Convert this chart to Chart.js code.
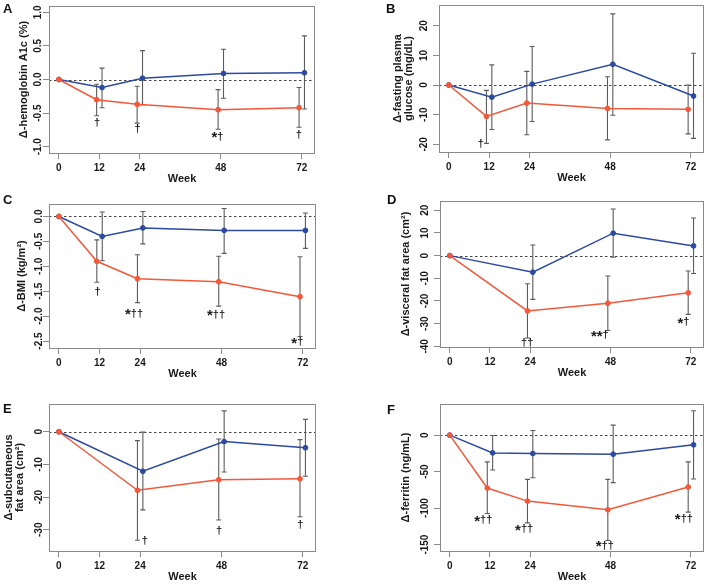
<!DOCTYPE html>
<html lang="en">
<head>
<meta charset="UTF-8">
<title>Change from baseline over 72 weeks</title>
<script src="https://cdn.jsdelivr.net/npm/chart.js"></script>
<style>
  body { margin: 0; background: #fff; font-family: "Liberation Sans", Arial, sans-serif; }
  #page { position: relative; width: 709px; height: 585px; }
  canvas, .tag { position: absolute; }
  .tag { font-size: 13px; font-weight: bold; line-height: 13px; color: #111; }
</style>
</head>
<body>
<div id="page"></div>
<script>
// ---- data ----
const weeks = [0, 12, 24, 48, 72];

// A: hemoglobin A1c (%)
const hba1cRed = [0, -0.30, -0.37, -0.45, -0.42];
const hba1cRedLo = [null, -0.54, -0.65, -0.74, -0.71];
const hba1cRedHi = [null, -0.07, -0.10, -0.15, -0.12];
const hba1cBlue = [0, -0.12, 0.02, 0.09, 0.10];
const hba1cBlueLo = [null, -0.42, -0.38, -0.28, -0.44];
const hba1cBlueHi = [null, 0.17, 0.43, 0.45, 0.65];
const hba1cTicks = [-1, -0.5, 0, 0.5, 1];
const hba1cNotes = [[11.3, -0.65, '†'], [23.3, -0.74, '†'], [47.0, -0.85, '*†'], [71.1, -0.82, '†']];

// B: fasting plasma glucose (mg/dL)
const fpgRed = [0, -10.6, -6.1, -7.9, -8.2];
const fpgRedLo = [null, -19.7, -16.8, -18.5, -16.5];
const fpgRedHi = [null, -1.8, 4.6, 2.8, 0.0];
const fpgBlue = [0, -4.1, 0.3, 7.0, -3.7];
const fpgBlueLo = [null, -15.0, -12.3, -10.2, -18.0];
const fpgBlueHi = [null, 6.8, 13.0, 24.0, 10.7];
const fpgTicks = [-20, -10, 0, 10, 20];
const fpgNotes = [[9.5, -19.9, '†']];

// C: BMI (kg/m2)
const bmiRed = [0, -0.90, -1.25, -1.31, -1.61];
const bmiRedLo = [null, -1.32, -1.73, -1.80, -2.41];
const bmiRedHi = [null, -0.47, -0.77, -0.80, -0.81];
const bmiBlue = [0, -0.40, -0.23, -0.28, -0.28];
const bmiBlueLo = [null, -0.89, -0.55, -0.74, -0.64];
const bmiBlueHi = [null, 0.09, 0.10, 0.16, 0.07];
const bmiTicks = [-2.5, -2, -1.5, -1, -0.5, 0];
const bmiNotes = [[11.4, -1.52, '†'], [22.2, -1.95, '*††'], [46.4, -1.97, '*††'], [70.4, -2.52, '*†']];

// D: visceral fat area (cm2), no week-12 measurement
const vfaRed = [0, null, -24.4, -21.0, -16.4];
const vfaRedLo = [null, null, -36.3, -33.0, -25.9];
const vfaRedHi = [null, null, -12.4, -9.0, -6.8];
const vfaBlue = [0, null, -7.3, 9.9, 4.3];
const vfaBlueLo = [null, null, -19.3, -0.7, -7.9];
const vfaBlueHi = [null, null, 4.7, 20.6, 16.6];
const vfaTicks = [-40, -30, -20, -10, 0, 10, 20];
const vfaNotes = [[23.1, -38.4, '††'], [44.8, -35.1, '**†'], [69.8, -29.3, '*†']];

// E: subcutaneous fat area (cm2), no week-12 measurement
const sfaRed = [0, null, -17.9, -14.7, -14.4];
const sfaRedLo = [null, null, -33.2, -27.0, -26.0];
const sfaRedHi = [null, null, -2.7, -2.2, -2.4];
const sfaBlue = [0, null, -12.1, -3.0, -4.9];
const sfaBlueLo = [null, null, -23.9, -12.3, -13.6];
const sfaBlueHi = [null, null, -0.1, 6.4, 3.8];
const sfaTicks = [-30, -20, -10, 0];
const sfaNotes = [[25.4, -33.3, '†'], [47.3, -30.5, '†'], [71.3, -28.6, '†']];

// F: ferritin (ng/mL)
const ferRed = [0, -72.5, -90.4, -102.3, -71.1];
const ferRedLo = [null, -107.3, -120.2, -144.5, -105.5];
const ferRedHi = [null, -36.7, -60.6, -60.6, -36.7];
const ferBlue = [0, -24.3, -25.2, -26.1, -13.3];
const ferBlueLo = [null, -47.7, -58.3, -65.1, -60.1];
const ferBlueHi = [null, -0.5, 6.4, 13.8, 33.5];
const ferTicks = [-150, -100, -50, 0];
const ferNotes = [[10.0, -116.5, '*††'], [22.2, -128.9, '*††'], [46.3, -151.4, '*††'], [69.9, -114.7, '*††']];

// ---- styling / layout ----
Chart.defaults.font.family = '"Liberation Sans", Arial, sans-serif';
Chart.defaults.color = '#1a1a1a';
Chart.defaults.animation = false;

const RED = '#f4583a';
const BLUE = '#2b4aa0';
const FRAME = '#8a8a8a';
const BAR = '#5c5c5c';
const SHIFT = 0.8;   // red drawn a little left, blue a little right

const panels = [
  { tag: 'A', title: 'Δ-hemoglobin A1c (%)', red: [hba1cRed, hba1cRedLo, hba1cRedHi], blue: [hba1cBlue, hba1cBlueLo, hba1cBlueHi],
    ticks: hba1cTicks, dec: 1, range: [-1.094, 1.094], notes: hba1cNotes },
  { tag: 'B', title: ['Δ-fasting plasma', 'glucose (mg/dL)'], red: [fpgRed, fpgRedLo, fpgRedHi], blue: [fpgBlue, fpgBlueLo, fpgBlueHi],
    ticks: fpgTicks, dec: 0, range: [-22.6, 27.0], notes: fpgNotes },
  { tag: 'C', title: 'Δ-BMI (kg/m²)', red: [bmiRed, bmiRedLo, bmiRedHi], blue: [bmiBlue, bmiBlueLo, bmiBlueHi],
    ticks: bmiTicks, dec: 1, range: [-2.64, 0.25], notes: bmiNotes },
  { tag: 'D', title: 'Δ-visceral fat area (cm²)', red: [vfaRed, vfaRedLo, vfaRedHi], blue: [vfaBlue, vfaBlueLo, vfaBlueHi],
    ticks: vfaTicks, dec: 0, range: [-40.3, 24.1], notes: vfaNotes },
  { tag: 'E', title: ['Δ-subcutaneous', 'fat area (cm²)'], red: [sfaRed, sfaRedLo, sfaRedHi], blue: [sfaBlue, sfaBlueLo, sfaBlueHi],
    ticks: sfaTicks, dec: 0, range: [-36.5, 8.5], notes: sfaNotes },
  { tag: 'F', title: 'Δ-ferritin (ng/mL)', red: [ferRed, ferRedLo, ferRedHi], blue: [ferBlue, ferBlueLo, ferBlueHi],
    ticks: ferTicks, dec: 0, range: [-158.8, 42.7], notes: ferNotes }
];

// canvas position, plot box inside canvas [left, right, top, bottom], title offset, tick label gap, letter pos
const frames = [
  { x: 0,   y: 0,   w: 355, box: [49, 315, 6, 153],  titlePad: 18,   gap: 10.5, letter: [3, 2] },
  { x: 355, y: 0,   w: 354, box: [84, 350, 5, 152],  titlePad: 37,   gap: 14.3, letter: [386, 1.5] },
  { x: 0,   y: 195, w: 355, box: [49, 316, 9, 153],  titlePad: 16.5, gap: 10,   letter: [3, 193] },
  { x: 355, y: 195, w: 354, box: [85, 350, 6, 152],  titlePad: 45.5, gap: 14.3, letter: [387, 193.3] },
  { x: 0,   y: 390, w: 355, box: [49, 316, 14, 161], titlePad: 3,    gap: 10,   letter: [3, 401.6] },
  { x: 355, y: 390, w: 354, box: [85, 349, 14, 161], titlePad: 45.5, gap: 14.3, letter: [387, 402.6] }
];
const H = 195;
const XAXIS_H = 33;

function points(vals, shift) {
  const out = [];
  weeks.forEach((w, i) => {
    if (vals[i] !== null) out.push({ x: w === 0 ? w : w + shift, y: vals[i] });
  });
  return out;
}

// dotted reference line at zero
const zeroLine = {
  id: 'zeroLine',
  beforeDatasetsDraw(chart) {
    const { ctx, chartArea: a } = chart;
    const py = Math.round(chart.scales.y.getPixelForValue(0)) + 0.5;
    ctx.save();
    ctx.strokeStyle = '#444';
    ctx.lineWidth = 1;
    ctx.setLineDash([2.5, 2.5]);
    ctx.beginPath();
    ctx.moveTo(a.left, py);
    ctx.lineTo(a.right, py);
    ctx.stroke();
    ctx.restore();
  }
};

// vertical error bars with small caps
const errBars = {
  id: 'errBars',
  beforeDatasetsDraw(chart, args, opts) {
    const { ctx } = chart;
    const { x: xs, y: ys } = chart.scales;
    ctx.save();
    ctx.strokeStyle = BAR;
    ctx.lineWidth = 1.1;
    opts.sets.forEach(s => {
      weeks.forEach((w, i) => {
        if (s.lo[i] === null) return;
        const px = xs.getPixelForValue(w + s.shift);
        const y1 = ys.getPixelForValue(s.lo[i]);
        const y2 = ys.getPixelForValue(s.hi[i]);
        ctx.beginPath();
        ctx.moveTo(px, y1); ctx.lineTo(px, y2);
        ctx.moveTo(px - 2.5, y1); ctx.lineTo(px + 2.5, y1);
        ctx.moveTo(px - 2.5, y2); ctx.lineTo(px + 2.5, y2);
        ctx.stroke();
      });
    });
    ctx.restore();
  }
};

// frame, rotated y tick labels and significance marks
const decor = {
  id: 'decor',
  afterDraw(chart, args, opts) {
    const { ctx, chartArea: a } = chart;
    const { x: xs, y: ys } = chart.scales;
    ctx.save();
    ctx.strokeStyle = FRAME;
    ctx.lineWidth = 1;
    ctx.strokeRect(a.left + 0.5, a.top + 0.5, a.right - a.left - 1, a.bottom - a.top);

    ctx.fillStyle = '#1a1a1a';
    ctx.font = 'bold 10px "Liberation Sans", Arial, sans-serif';
    ctx.textAlign = 'center';
    ctx.textBaseline = 'middle';
    ys.ticks.forEach(t => {
      ctx.save();
      ctx.translate(a.left - opts.gap, ys.getPixelForValue(t.value));
      ctx.rotate(-Math.PI / 2);
      ctx.fillText(t.value.toFixed(opts.dec), 0, 0);
      ctx.restore();
    });

    const starFont = 'bold 15px "Liberation Sans", Arial, sans-serif';
    const dagFont = 'bold 11px "Liberation Sans", Arial, sans-serif';
    opts.notes.forEach(([wk, val, txt]) => {
      const stars = txt.replace(/†/g, '');
      const daggers = txt.replace(/\*/g, '');
      ctx.font = starFont;
      const sw = ctx.measureText(stars).width;
      ctx.font = dagFont;
      const dw = ctx.measureText(daggers).width;
      let px = xs.getPixelForValue(wk) - (sw + dw) / 2;
      const py = ys.getPixelForValue(val);
      ctx.textAlign = 'left';
      if (stars) {
        ctx.font = starFont;
        ctx.fillText(stars, px, py + 1.5);
        px += sw;
      }
      ctx.font = dagFont;
      ctx.fillText(daggers, px, py);
    });
    ctx.restore();
  }
};

const page = document.getElementById('page');

panels.forEach((p, k) => {
  const f = frames[k];
  const [l, r, t, b] = f.box;

  const tag = document.createElement('div');
  tag.className = 'tag';
  tag.textContent = p.tag;
  tag.style.left = f.letter[0] + 'px';
  tag.style.top = f.letter[1] + 'px';

  const cv = document.createElement('canvas');
  cv.width = f.w;
  cv.height = H;
  cv.style.left = f.x + 'px';
  cv.style.top = f.y + 'px';
  page.appendChild(cv);
  page.appendChild(tag);

  const line = (vals, shift, color) => ({
    data: points(vals, shift),
    borderColor: color,
    backgroundColor: color,
    borderWidth: 1.5,
    pointRadius: 2.4,
    pointBorderWidth: 1,
    tension: 0
  });

  new Chart(cv, {
    type: 'line',
    data: {
      datasets: [line(p.red[0], -SHIFT, RED), line(p.blue[0], SHIFT, BLUE)]
    },
    options: {
      responsive: false,
      layout: { padding: { left: 0, top: t, right: f.w - r, bottom: H - b - XAXIS_H } },
      plugins: {
        legend: { display: false },
        tooltip: { enabled: false },
        errBars: {
          sets: [
            { lo: p.red[1], hi: p.red[2], shift: -SHIFT },
            { lo: p.blue[1], hi: p.blue[2], shift: SHIFT }
          ]
        },
        decor: { gap: f.gap, dec: p.dec, notes: p.notes }
      },
      scales: {
        x: {
          type: 'linear',
          min: -2.92,
          max: 75.92,
          bounds: 'data',
          afterBuildTicks: s => { s.ticks = weeks.map(v => ({ value: v })); },
          afterFit: s => { s.height = XAXIS_H; },
          border: { display: false },
          grid: { drawOnChartArea: false, drawTicks: true, tickLength: 6, color: FRAME },
          ticks: { padding: 3.5, font: { size: 10, weight: 'bold' }, maxRotation: 0, autoSkip: false },
          title: { display: true, text: 'Week', font: { size: 11, weight: 'bold' }, padding: { top: 0, bottom: 0 } }
        },
        y: {
          type: 'linear',
          min: p.range[0],
          max: p.range[1],
          bounds: 'data',
          afterBuildTicks: s => { s.ticks = p.ticks.map(v => ({ value: v })); },
          afterFit: s => { s.width = l; },
          border: { display: false },
          grid: { drawOnChartArea: false, drawTicks: true, tickLength: 6, color: FRAME },
          ticks: { display: false },
          title: {
            display: true,
            text: p.title,
            font: { size: 11, weight: 'bold', lineHeight: 1 },
            padding: { top: f.titlePad, bottom: 0 }
          }
        }
      }
    },
    plugins: [zeroLine, errBars, decor]
  });
});
</script>
</body>
</html>
